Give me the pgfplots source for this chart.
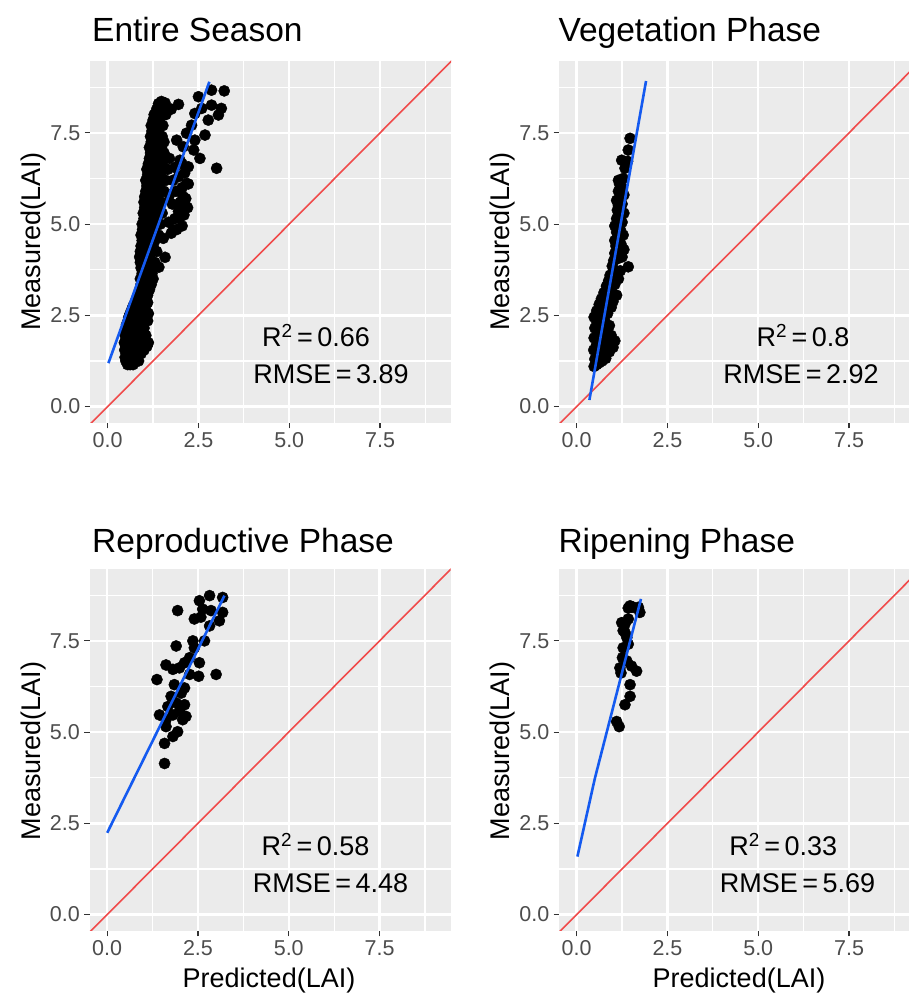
\documentclass[border=0pt]{standalone}
\usepackage{fontspec}
\setmainfont{Liberation Sans}
\usepackage{pgfplots}
\pgfplotsset{compat=1.18}
\definecolor{panelbg}{RGB}{235,235,235}
\definecolor{tickgray}{RGB}{77,77,77}
\definecolor{tickmark}{RGB}{51,51,51}
\definecolor{fitblue}{RGB}{20,90,240}
\definecolor{idred}{RGB}{240,75,75}
\newcommand{\ticksize}{\fontsize{21.5}{24}\selectfont}
\newcommand{\labsize}{\fontsize{27}{30}\selectfont}
\newcommand{\titsize}{\fontsize{33.5}{36}\selectfont}
\pgfplotsset{ggpanel/.style={
  scale only axis, width=361pt, height=362pt,
  anchor=south west,
  xmin=-0.487, xmax=9.455, ymin=-0.45, ymax=9.47,
  axis background/.style={fill=panelbg},
  axis line style={draw=none},
  xtick={0,2.5,5,7.5}, ytick={0,2.5,5,7.5},
  minor xtick={1.25,3.75,6.25,8.75}, minor ytick={1.25,3.75,6.25,8.75},
  xticklabels={0.0,2.5,5.0,7.5}, yticklabels={0.0,2.5,5.0,7.5},
  grid=both,
  major grid style={white, line width=2.4pt},
  minor grid style={white, line width=1.2pt},
  tick align=outside, tick pos=left,
  major tick length=5.5pt, minor tick length=0pt,
  tick style={tickmark, line width=1.1pt},
  ticklabel style={font=\ticksize, text=tickgray, inner sep=0pt},
  xticklabel style={anchor=north, yshift=-4pt},
  yticklabel style={anchor=east, xshift=-4pt},
  clip=true, clip marker paths=true,
}}
\begin{document}
\begin{tikzpicture}
\useasboundingbox (0,0) rectangle (909pt,1003pt);
\clip (0,0) rectangle (909pt,1003pt);

% ---------------- Entire Season ----------------
\begin{axis}[ggpanel, at={(90pt,580pt)}]
\addplot[idred, line width=1.6pt] coordinates {(-1,-1) (10,10)};
\addplot[only marks, mark=*, mark size=5.6pt, black, mark options={fill=black}] table {
x y
0.55 1.15
0.62 1.15
0.70 1.15
0.50 1.25
0.60 1.25
0.75 1.25
0.85 1.25
0.48 1.35
0.58 1.35
0.68 1.35
0.80 1.35
0.52 1.45
0.64 1.45
0.74 1.45
0.92 1.45
0.47 1.55
0.57 1.55
0.70 1.55
0.83 1.55
1.00 1.55
0.50 1.65
0.62 1.65
0.78 1.65
0.90 1.65
1.08 1.65
0.46 1.75
0.55 1.75
0.68 1.75
0.85 1.75
1.12 1.75
0.52 1.85
0.60 1.85
0.74 1.85
0.95 1.85
0.48 1.95
0.58 1.95
0.70 1.95
0.82 1.95
1.05 1.95
0.50 2.05
0.64 2.05
0.76 2.05
0.88 2.05
0.54 2.15
0.66 2.15
0.80 2.15
1.00 2.15
0.52 2.25
0.62 2.25
0.72 2.25
0.86 2.25
0.56 2.35
0.68 2.35
0.82 2.35
0.95 2.35
1.10 2.35
0.58 2.45
0.70 2.45
0.78 2.45
1.02 2.45
0.62 2.55
0.74 2.55
0.88 2.55
1.12 2.55
0.66 2.65
0.80 2.65
0.92 2.65
1.05 2.65
0.70 2.75
0.84 2.75
1.00 2.75
0.75 2.85
0.90 2.85
1.10 2.85
0.80 2.95
0.95 2.95
0.85 3.05
0.98 3.05
1.10 3.05
0.88 3.20
1.00 3.20
1.15 3.20
0.92 3.35
1.05 3.35
1.20 3.35
0.90 3.50
1.02 3.50
1.12 3.50
1.25 3.50
0.95 3.65
1.08 3.65
1.22 3.65
0.92 3.80
1.05 3.80
1.18 3.80
1.41 3.82
0.90 3.95
1.00 3.95
1.12 3.95
1.30 3.95
0.88 4.10
1.02 4.10
1.15 4.10
1.58 4.09
0.90 4.25
1.05 4.25
1.20 4.25
1.35 4.25
0.92 4.40
1.08 4.40
1.25 4.40
0.95 4.55
1.10 4.55
1.30 4.55
1.53 4.61
0.92 4.70
1.05 4.70
1.18 4.70
1.40 4.70
0.96 4.85
1.12 4.85
1.28 4.85
0.95 5.00
1.08 5.00
1.22 5.00
1.45 5.00
1.00 5.15
1.15 5.15
1.32 5.15
0.98 5.30
1.10 5.30
1.25 5.30
1.50 5.30
1.02 5.45
1.18 5.45
1.35 5.45
1.81 4.84
1.75 4.75
1.90 4.85
2.05 4.95
1.68 5.05
1.85 5.15
1.99 5.20
2.10 5.25
1.95 5.35
2.20 5.45
2.17 5.47
1.78 5.55
2.00 5.60
2.15 5.70
2.08 5.75
1.70 5.80
1.88 5.90
2.05 6.00
2.22 6.10
2.17 6.11
1.80 6.20
1.95 6.30
2.12 6.40
1.85 6.55
2.22 6.57
2.05 6.65
1.99 6.75
1.00 5.60
1.15 5.60
1.30 5.60
1.48 5.60
1.02 5.75
1.20 5.75
1.38 5.75
1.05 5.90
1.18 5.90
1.32 5.90
1.55 5.90
1.08 6.05
1.25 6.05
1.42 6.05
1.05 6.20
1.20 6.20
1.35 6.20
1.60 6.20
1.10 6.35
1.28 6.35
1.45 6.35
1.08 6.50
1.22 6.50
1.40 6.50
1.65 6.50
1.12 6.65
1.30 6.65
1.50 6.65
1.15 6.80
1.28 6.80
1.45 6.80
1.70 6.80
1.18 6.95
1.35 6.95
1.55 6.95
1.15 7.10
1.30 7.10
1.48 7.10
1.20 7.25
1.38 7.25
1.55 7.25
1.90 7.30
1.18 7.40
1.32 7.40
1.50 7.40
1.22 7.55
1.40 7.55
1.20 7.70
1.35 7.70
1.52 7.70
1.25 7.85
1.42 7.85
1.28 8.00
1.45 8.00
1.60 8.00
1.35 8.15
1.55 8.15
1.75 8.15
1.40 8.30
1.58 8.32
1.95 8.28
1.48 8.36
2.50 8.49
2.86 8.67
3.21 8.65
2.59 8.17
2.86 8.26
3.13 8.17
3.05 7.99
2.77 7.85
2.40 8.03
2.31 7.71
2.68 7.44
2.40 7.30
2.17 7.49
2.08 7.12
2.37 7.03
2.54 6.80
3.00 6.53
};
\addplot[fitblue, line width=2.6pt] coordinates {(0.02,1.19) (1.4,5.0) (2.80,8.90)};
\node[font=\labsize, anchor=base] at (axis cs:5.74,1.64) {R\textsuperscript{2}\,=\,0.66};
\node[font=\labsize, anchor=base] at (axis cs:6.15,0.64) {RMSE\,=\,3.89};
\end{axis}

% ---------------- Vegetation Phase ----------------
\begin{axis}[ggpanel, at={(559pt,580pt)}]
\addplot[idred, line width=1.6pt] coordinates {(-1,-1) (10,10)};
\addplot[only marks, mark=*, mark size=5.6pt, black, mark options={fill=black}] table {
x y
0.48 1.10
0.55 1.15
0.62 1.20
0.70 1.25
0.50 1.30
0.80 1.32
0.58 1.40
0.68 1.45
0.90 1.50
0.47 1.55
0.75 1.58
1.00 1.62
0.55 1.70
0.65 1.72
0.85 1.78
1.05 1.80
0.48 1.88
0.72 1.92
0.95 1.95
0.58 2.02
0.82 2.08
0.50 2.15
0.66 2.20
0.90 2.22
0.56 2.30
0.76 2.38
0.48 2.45
0.62 2.50
0.85 2.55
0.55 2.62
0.70 2.68
0.95 2.72
0.62 2.80
0.80 2.85
1.00 2.88
0.68 2.95
0.88 3.00
1.10 3.05
0.75 3.12
0.95 3.18
0.82 3.30
1.05 3.35
0.88 3.45
1.15 3.50
0.92 3.60
1.02 3.70
1.20 3.72
0.98 3.85
1.42 3.83
1.02 4.00
1.12 4.05
1.25 4.10
1.05 4.20
1.18 4.25
1.30 4.30
1.08 4.40
1.22 4.45
1.05 4.55
1.15 4.62
1.28 4.70
1.10 4.78
1.20 4.85
1.05 4.95
1.15 5.00
1.25 5.05
1.10 5.15
1.20 5.22
1.30 5.30
1.12 5.38
1.15 5.50
1.25 5.55
1.10 5.65
1.20 5.75
1.30 5.80
1.15 5.90
1.25 6.00
1.18 6.10
1.15 6.20
1.28 6.25
1.33 6.53
1.24 6.75
1.40 6.72
1.42 7.03
1.47 7.35
};
\addplot[fitblue, line width=2.6pt] coordinates {(0.35,0.18) (1.91,8.92)};
\node[font=\labsize, anchor=base] at (axis cs:6.23,1.64) {R\textsuperscript{2}\,=\,0.8};
\node[font=\labsize, anchor=base] at (axis cs:6.18,0.64) {RMSE\,=\,2.92};
\end{axis}

% ---------------- Reproductive Phase ----------------
\begin{axis}[ggpanel, at={(89.5pt,72pt)}]
\addplot[idred, line width=1.6pt] coordinates {(-1,-1) (10,10)};
\addplot[only marks, mark=*, mark size=5.6pt, black, mark options={fill=black}] table {
x y
2.82 8.74
2.54 8.60
1.94 8.33
2.63 8.37
2.86 8.33
3.18 8.69
3.18 8.28
3.09 8.05
2.40 8.10
2.58 8.15
2.82 7.91
2.36 7.50
2.68 7.50
1.90 7.36
2.40 7.31
2.27 7.04
2.13 6.90
1.62 6.84
1.81 6.72
1.99 6.76
2.54 6.90
2.27 6.58
2.52 6.53
3.00 6.58
1.37 6.44
1.85 6.30
2.13 6.21
2.04 6.07
1.76 5.98
2.13 5.75
1.90 5.80
1.67 5.70
1.44 5.47
1.99 5.58
2.17 5.43
1.62 5.34
1.81 5.47
2.08 5.34
1.62 5.15
1.94 5.01
1.81 4.88
1.58 4.69
1.58 4.14
};
\addplot[fitblue, line width=2.6pt] coordinates {(0.0,2.24) (3.23,8.74)};
\node[font=\labsize, anchor=base] at (axis cs:5.74,1.61) {R\textsuperscript{2}\,=\,0.58};
\node[font=\labsize, anchor=base] at (axis cs:6.15,0.61) {RMSE\,=\,4.48};
\end{axis}

% ---------------- Ripening Phase ----------------
\begin{axis}[ggpanel, at={(559pt,72pt)}]
\addplot[idred, line width=1.6pt] coordinates {(-1,-1) (10,10)};
\addplot[only marks, mark=*, mark size=5.6pt, black, mark options={fill=black}] table {
x y
1.47 8.46
1.42 8.40
1.51 8.43
1.74 8.28
1.70 8.42
1.24 8.00
1.33 7.96
1.42 8.10
1.28 7.78
1.38 7.59
1.42 7.41
1.28 7.31
1.26 7.04
1.38 6.95
1.19 6.76
1.51 6.81
1.65 6.67
1.22 6.62
1.47 6.30
1.47 5.98
1.33 5.75
1.10 5.29
1.17 5.15
1.56 8.42
1.33 7.73
};
\addplot[fitblue, line width=2.6pt] coordinates {(0.02,1.59) (0.5,3.73) (1.77,8.65)};
\node[font=\labsize, anchor=base] at (axis cs:5.69,1.61) {R\textsuperscript{2}\,=\,0.33};
\node[font=\labsize, anchor=base] at (axis cs:6.08,0.61) {RMSE\,=\,5.69};
\end{axis}

% titles
\node[font=\titsize, anchor=base west, inner sep=0pt] at (92pt,961.3pt) {Entire Season};
\node[font=\titsize, anchor=base west, inner sep=0pt] at (558.3pt,961.3pt) {Vegetation Phase};
\node[font=\titsize, anchor=base west, inner sep=0pt] at (92pt,450.6pt) {Reproductive Phase};
\node[font=\titsize, anchor=base west, inner sep=0pt] at (558.3pt,450.6pt) {Ripening Phase};
% y labels
\node[font=\labsize, rotate=90, anchor=base, inner sep=0pt] at (40pt,761.5pt) {Measured(LAI)};
\node[font=\labsize, rotate=90, anchor=base, inner sep=0pt] at (509pt,761.5pt) {Measured(LAI)};
\node[font=\labsize, rotate=90, anchor=base, inner sep=0pt] at (40pt,252.1pt) {Measured(LAI)};
\node[font=\labsize, rotate=90, anchor=base, inner sep=0pt] at (509pt,252.1pt) {Measured(LAI)};
% x labels
\node[font=\labsize, anchor=base, inner sep=0pt] at (269pt,15.7pt) {Predicted(LAI)};
\node[font=\labsize, anchor=base, inner sep=0pt] at (739pt,15.7pt) {Predicted(LAI)};
\end{tikzpicture}
\end{document}
